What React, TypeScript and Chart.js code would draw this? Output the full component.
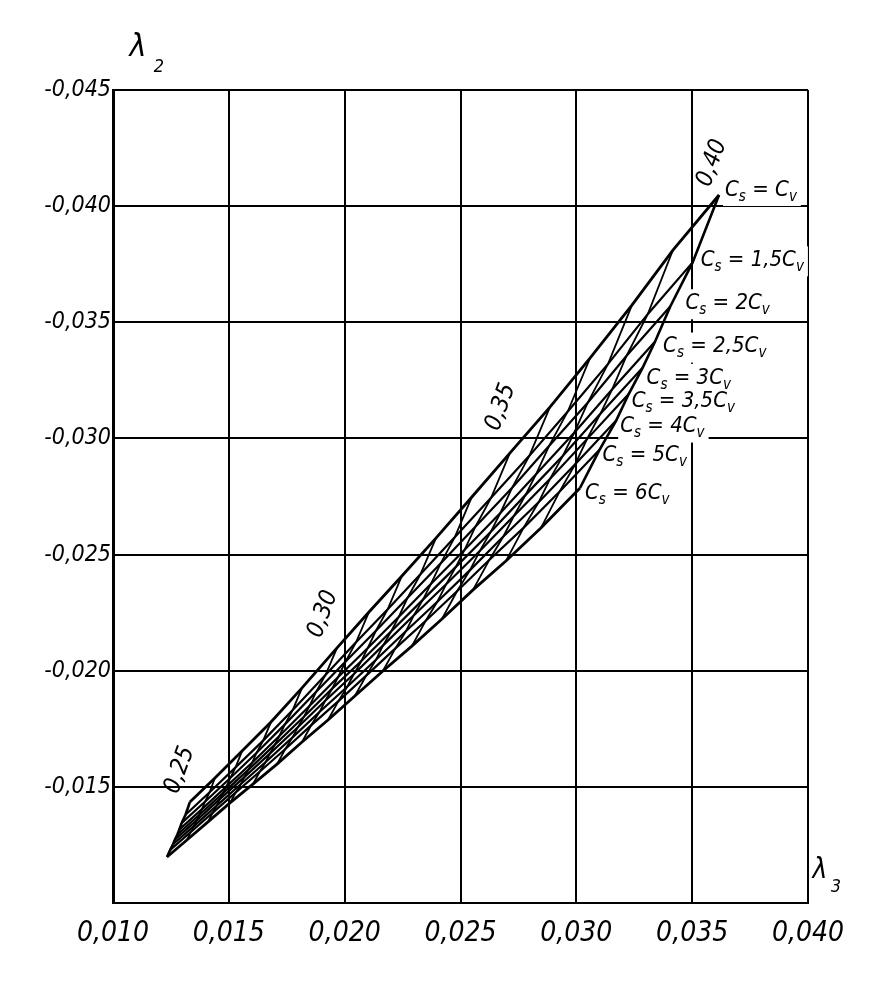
import React, { useEffect, useRef } from "react";
import { Chart, registerables } from "chart.js";

Chart.register(...registerables);

// Cv values along each Cs curve
const cvValues = [0.25, 0.26, 0.27, 0.28, 0.29, 0.3, 0.31, 0.32, 0.33, 0.34, 0.35, 0.36, 0.37, 0.38, 0.39, 0.4];
const cvLabelText = ["0,25", "0,30", "0,35", "0,40"];
const cvLabelValues = [0.25, 0.3, 0.35, 0.4];
const csRatioText = ["", "1,5", "2", "2,5", "3", "3,5", "4", "5", "6"];

// λ3 (x) and λ2 (y) for each Cs curve, indexed by cvValues
const l3_cs1 = [0.01332, 0.0144, 0.01557, 0.01682, 0.01816, 0.01967, 0.02105, 0.02247, 0.02394, 0.02549, 0.02713, 0.02886, 0.03059, 0.0324, 0.03417, 0.03616];
const l2_cs1 = [-0.01435, -0.01538, -0.01654, -0.01779, -0.01926, -0.02098, -0.02253, -0.02408, -0.02571, -0.02748, -0.02937, -0.03135, -0.03346, -0.03574, -0.03811, -0.04048];
const l3_cs15 = [0.01313, 0.01417, 0.01529, 0.01648, 0.01776, 0.01918, 0.0205, 0.02186, 0.02327, 0.02476, 0.02633, 0.02797, 0.02963, 0.03137, 0.03309, 0.03502];
const l2_cs15 = [-0.0138, -0.01477, -0.01584, -0.01699, -0.01831, -0.01983, -0.02124, -0.02265, -0.02415, -0.02576, -0.02746, -0.02925, -0.03116, -0.03321, -0.03536, -0.03758];
const l3_cs2 = [0.01297, 0.01398, 0.01506, 0.0162, 0.01742, 0.01876, 0.02004, 0.02135, 0.02271, 0.02415, 0.02565, 0.02723, 0.02882, 0.0305, 0.03217, 0.03406];
const l2_cs2 = [-0.01345, -0.01437, -0.01538, -0.01647, -0.01769, -0.01908, -0.0204, -0.02172, -0.02313, -0.02463, -0.02621, -0.02788, -0.02967, -0.03155, -0.03356, -0.03569];
const l3_cs25 = [0.01286, 0.01384, 0.01489, 0.01601, 0.01718, 0.01848, 0.01972, 0.021, 0.02233, 0.02372, 0.02518, 0.02672, 0.02827, 0.0299, 0.03155, 0.0334];
const l2_cs25 = [-0.01316, -0.01404, -0.01501, -0.01605, -0.01719, -0.01848, -0.01973, -0.02098, -0.02231, -0.02373, -0.02521, -0.02679, -0.02847, -0.03023, -0.03212, -0.03417];
const l3_cs3 = [0.01278, 0.01373, 0.01476, 0.01585, 0.01699, 0.01825, 0.01946, 0.02072, 0.02201, 0.02338, 0.0248, 0.0263, 0.02781, 0.02941, 0.03103, 0.03286];
const l2_cs3 = [-0.01295, -0.0138, -0.01474, -0.01574, -0.01682, -0.01803, -0.01923, -0.02042, -0.0217, -0.02306, -0.02447, -0.02597, -0.02757, -0.02924, -0.03105, -0.03304];
const l3_cs35 = [0.01268, 0.01361, 0.01461, 0.01567, 0.01678, 0.01799, 0.01917, 0.0204, 0.02166, 0.02299, 0.02438, 0.02583, 0.02731, 0.02886, 0.03046, 0.03226];
const l2_cs35 = [-0.01274, -0.01356, -0.01447, -0.01542, -0.01644, -0.01758, -0.01872, -0.01986, -0.02109, -0.02239, -0.02372, -0.02515, -0.02667, -0.02825, -0.02997, -0.03191];
const l3_cs4 = [0.01259, 0.0135, 0.01448, 0.01551, 0.01659, 0.01775, 0.01891, 0.02011, 0.02135, 0.02265, 0.024, 0.02541, 0.02685, 0.02837, 0.02995, 0.03172];
const l2_cs4 = [-0.01253, -0.01332, -0.01419, -0.01511, -0.01607, -0.01713, -0.01822, -0.01931, -0.02047, -0.02171, -0.02297, -0.02433, -0.02578, -0.02725, -0.02889, -0.03077];
const l3_cs5 = [0.01247, 0.01336, 0.01431, 0.0153, 0.01634, 0.01744, 0.01856, 0.01973, 0.02093, 0.02219, 0.02349, 0.02485, 0.02625, 0.02772, 0.02927, 0.031];
const l2_cs5 = [-0.01229, -0.01306, -0.01389, -0.01476, -0.01566, -0.01663, -0.01766, -0.01869, -0.01979, -0.02096, -0.02214, -0.02342, -0.02478, -0.02615, -0.0277, -0.02951];
const l3_cs6 = [0.01233, 0.01319, 0.0141, 0.01505, 0.01604, 0.01708, 0.01816, 0.01928, 0.02044, 0.02165, 0.0229, 0.0242, 0.02554, 0.02696, 0.02847, 0.03016];
const l2_cs6 = [-0.01198, -0.01271, -0.01349, -0.01431, -0.01512, -0.01598, -0.01693, -0.01788, -0.01891, -0.01999, -0.02106, -0.02223, -0.02348, -0.02472, -0.02614, -0.02787];

const csLambda3 = [l3_cs1, l3_cs15, l3_cs2, l3_cs25, l3_cs3, l3_cs35, l3_cs4, l3_cs5, l3_cs6];
const csLambda2 = [l2_cs1, l2_cs15, l2_cs2, l2_cs25, l2_cs3, l2_cs35, l2_cs4, l2_cs5, l2_cs6];

// styling (pixel offsets of labels from their anchor points)
const FONT = '"Liberation Sans Narrow", "DejaVu Sans Condensed", "Roboto Condensed", "Liberation Sans", sans-serif';
const csLabelOffsets = [[6, -5], [8, -2], [15, -3], [8, 5], [4, 10], [3, 7], [4, 6], [3, 5], [5, 5]];
const cvLabelOffsets = [[-10, -32], [-14, -34], [-9, -46], [-7, -32]];

const fmt = (v: number) => Number(v).toFixed(3).replace(".", ",");

function csParts(ratio: string) {
  return [
    { t: "C", sub: false },
    { t: "s", sub: true },
    { t: " = " + ratio + "C", sub: false },
    { t: "v", sub: true },
  ];
}

function measureCs(ctx: CanvasRenderingContext2D, ratio: string) {
  let w = 0;
  for (const p of csParts(ratio)) {
    ctx.font = p.sub ? `italic 15px ${FONT}` : `italic 22px ${FONT}`;
    w += ctx.measureText(p.t).width;
  }
  return w;
}

function drawCs(ctx: CanvasRenderingContext2D, x: number, y: number, ratio: string) {
  let cx = x;
  ctx.textBaseline = "middle";
  ctx.textAlign = "left";
  ctx.fillStyle = "#000";
  for (const p of csParts(ratio)) {
    ctx.font = p.sub ? `italic 15px ${FONT}` : `italic 22px ${FONT}`;
    ctx.fillText(p.t, cx, p.sub ? y + 7 : y);
    cx += ctx.measureText(p.t).width;
  }
}

const annotPlugin = {
  id: "nomoAnnot",
  beforeDatasetsDraw(chart: any) {
    const ctx = chart.ctx as CanvasRenderingContext2D;
    const xs = chart.scales.x;
    const ys = chart.scales.y;
    ctx.save();
    ctx.fillStyle = "#fff";
    csLambda3.forEach((arr, i) => {
      const n = arr.length - 1;
      const px = xs.getPixelForValue(arr[n]) + csLabelOffsets[i][0];
      const py = ys.getPixelForValue(csLambda2[i][n]) + csLabelOffsets[i][1];
      const w = measureCs(ctx, csRatioText[i]);
      ctx.fillRect(px - 2, py - 14, w + 6, 30);
    });
    ctx.restore();
  },
  afterDatasetsDraw(chart: any) {
    const ctx = chart.ctx as CanvasRenderingContext2D;
    const xs = chart.scales.x;
    const ys = chart.scales.y;
    ctx.save();
    csLambda3.forEach((arr, i) => {
      const n = arr.length - 1;
      const px = xs.getPixelForValue(arr[n]) + csLabelOffsets[i][0];
      const py = ys.getPixelForValue(csLambda2[i][n]) + csLabelOffsets[i][1];
      drawCs(ctx, px, py, csRatioText[i]);
    });
    cvLabelValues.forEach((cv, k) => {
      const j = cvValues.indexOf(cv);
      const px = xs.getPixelForValue(l3_cs1[j]) + cvLabelOffsets[k][0];
      const py = ys.getPixelForValue(l2_cs1[j]) + cvLabelOffsets[k][1];
      ctx.save();
      ctx.translate(px, py);
      ctx.rotate((-70 * Math.PI) / 180);
      ctx.font = `italic 24px ${FONT}`;
      ctx.fillStyle = "#000";
      ctx.textAlign = "center";
      ctx.textBaseline = "middle";
      ctx.fillText(cvLabelText[k], 0, 0);
      ctx.restore();
    });
    // axis titles
    const ca = chart.chartArea;
    ctx.fillStyle = "#000";
    ctx.textAlign = "center";
    ctx.textBaseline = "middle";
    ctx.font = `italic 32px ${FONT}`;
    ctx.fillText("λ", ca.left + 25, ca.top - 42);
    ctx.font = `italic 18px ${FONT}`;
    ctx.fillText("2", ca.left + 46, ca.top - 23);
    ctx.font = `italic 28px ${FONT}`;
    ctx.fillText("λ", ca.right + 12, ca.bottom - 32);
    ctx.font = `italic 18px ${FONT}`;
    ctx.fillText("3", ca.right + 28, ca.bottom - 16);
    ctx.restore();
  },
};

export default function App() {
  const ref = useRef<HTMLCanvasElement | null>(null);
  useEffect(() => {
    document.body.style.margin = "0";
    const canvas = ref.current;
    if (!canvas) return;

    const csDatasets = csLambda3.map((arr, i) => ({
      label: "Cs = " + csRatioText[i] + "Cv",
      data: arr.map((x, j) => ({ x, y: csLambda2[i][j] })),
      showLine: true,
      borderColor: "#000",
      borderWidth: i === 0 || i === csLambda3.length - 1 ? 2.8 : 2.2,
      pointRadius: 0,
      fill: false,
      tension: 0,
    }));
    const cvDatasets = cvValues.map((cv, j) => ({
      label: "Cv = " + cv,
      data: csLambda3.map((arr, i) => ({ x: arr[j], y: csLambda2[i][j] })),
      showLine: true,
      borderColor: "#000",
      borderWidth: j === 0 || j === cvValues.length - 1 ? 2.6 : 1.8,
      pointRadius: 0,
      fill: false,
      tension: 0,
    }));

    const chart = new Chart(canvas, {
      type: "scatter",
      data: { datasets: [...csDatasets, ...cvDatasets] as any },
      plugins: [annotPlugin as any],
      options: {
        responsive: false,
        animation: false,
        devicePixelRatio: 1,
        layout: { padding: { top: 90, right: 80, left: 0, bottom: 0 } },
        plugins: {
          legend: { display: false },
          tooltip: { enabled: false },
          title: { display: false },
        },
        scales: {
          x: {
            type: "linear",
            position: "bottom",
            min: 0.01,
            max: 0.04,
            afterFit: (s: any) => {
              s.height = 97;
            },
            ticks: {
              stepSize: 0.005,
              autoSkip: false,
              maxRotation: 0,
              padding: 14,
              color: "#000",
              font: { family: FONT, size: 28, style: "italic" },
              callback: (v: any) => fmt(v),
            },
            grid: { color: "#000", lineWidth: 2, drawTicks: false },
            border: { color: "#000", width: 2 },
          },
          y: {
            type: "linear",
            reverse: true,
            min: -0.045,
            max: -0.01,
            afterFit: (s: any) => {
              s.width = 113;
            },
            ticks: {
              stepSize: 0.005,
              autoSkip: false,
              padding: 2,
              color: "#000",
              font: { family: FONT, size: 23, style: "italic" },
              callback: (v: any) => (Math.abs(Number(v) + 0.01) < 1e-9 ? "" : fmt(v)),
            },
            grid: { color: "#000", lineWidth: 2, drawTicks: false },
            border: { color: "#000", width: 3 },
          },
        },
      } as any,
    });
    return () => chart.destroy();
  }, []);

  return (
    <div style={{ width: 888, height: 1000, background: "#fff" }}>
      <canvas ref={ref} width={888} height={1000} style={{ display: "block", width: 888, height: 1000 }} />
    </div>
  );
}
